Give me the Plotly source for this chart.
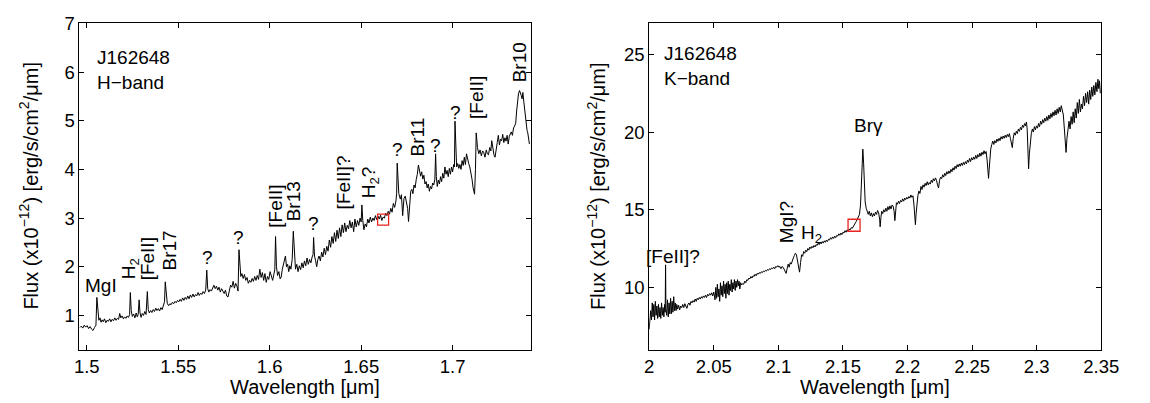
import plotly.graph_objects as go

W, H = 1150, 403
FONT = "Liberation Sans, Arial, Helvetica, sans-serif"

# ---------------- H-band spectrum (wavelength in micron, flux in 1e-12 erg/s/cm2/um)
h_wavelength = [
    1.4962, 1.4970, 1.4978, 1.4986, 1.4994, 1.5002, 1.5010, 1.5018, 1.5026, 1.5034,
    1.5042, 1.5050, 1.5055, 1.5060, 1.5066, 1.5072, 1.5078, 1.5084, 1.5090, 1.5097,
    1.5104, 1.5111, 1.5118, 1.5125, 1.5132, 1.5139, 1.5146, 1.5153, 1.5160, 1.5167,
    1.5174, 1.5180, 1.5186, 1.5193, 1.5200, 1.5207, 1.5214, 1.5221, 1.5228, 1.5234,
    1.5238, 1.5243, 1.5249, 1.5256, 1.5263, 1.5270, 1.5276, 1.5281, 1.5286, 1.5291,
    1.5297, 1.5303, 1.5310, 1.5317, 1.5324, 1.5331, 1.5336, 1.5342, 1.5349, 1.5356,
    1.5363, 1.5370, 1.5377, 1.5384, 1.5391, 1.5398, 1.5405, 1.5412, 1.5419, 1.5425,
    1.5429, 1.5434, 1.5440, 1.5447, 1.5454, 1.5461, 1.5468, 1.5475, 1.5482, 1.5489,
    1.5496, 1.5503, 1.5510, 1.5517, 1.5524, 1.5531, 1.5538, 1.5545, 1.5552, 1.5559,
    1.5566, 1.5573, 1.5580, 1.5587, 1.5594, 1.5601, 1.5608, 1.5615, 1.5622, 1.5629,
    1.5636, 1.5643, 1.5650, 1.5656, 1.5661, 1.5667, 1.5674, 1.5681, 1.5688, 1.5695,
    1.5702, 1.5709, 1.5716, 1.5723, 1.5730, 1.5737, 1.5744, 1.5751, 1.5758, 1.5765,
    1.5772, 1.5779, 1.5786, 1.5793, 1.5800, 1.5807, 1.5814, 1.5821, 1.5827, 1.5832,
    1.5837, 1.5842, 1.5848, 1.5855, 1.5862, 1.5869, 1.5876, 1.5883, 1.5890, 1.5897,
    1.5904, 1.5911, 1.5918, 1.5925, 1.5932, 1.5939, 1.5946, 1.5953, 1.5960, 1.5967,
    1.5974, 1.5981, 1.5988, 1.5995, 1.6002, 1.6009, 1.6016, 1.6023, 1.6028, 1.6032,
    1.6037, 1.6043, 1.6050, 1.6057, 1.6063, 1.6069, 1.6075, 1.6081, 1.6086, 1.6092,
    1.6098, 1.6104, 1.6110, 1.6116, 1.6123, 1.6129, 1.6135, 1.6141, 1.6148, 1.6155,
    1.6162, 1.6169, 1.6176, 1.6183, 1.6190, 1.6197, 1.6204, 1.6211, 1.6218, 1.6225,
    1.6232, 1.6237, 1.6240, 1.6245, 1.6251, 1.6257, 1.6263, 1.6270, 1.6277, 1.6284,
    1.6291, 1.6298, 1.6305, 1.6312, 1.6319, 1.6326, 1.6333, 1.6340, 1.6347, 1.6354,
    1.6361, 1.6368, 1.6375, 1.6382, 1.6389, 1.6396, 1.6403, 1.6410, 1.6417, 1.6424,
    1.6431, 1.6438, 1.6445, 1.6452, 1.6459, 1.6466, 1.6473, 1.6480, 1.6487, 1.6494,
    1.6500, 1.6504, 1.6509, 1.6515, 1.6522, 1.6529, 1.6536, 1.6543, 1.6550, 1.6557,
    1.6564, 1.6571, 1.6578, 1.6585, 1.6592, 1.6599, 1.6606, 1.6613, 1.6620, 1.6627,
    1.6634, 1.6641, 1.6648, 1.6655, 1.6662, 1.6669, 1.6676, 1.6683, 1.6690, 1.6694,
    1.6697, 1.6701, 1.6706, 1.6714, 1.6720, 1.6727, 1.6734, 1.6741, 1.6748, 1.6754,
    1.6759, 1.6765, 1.6771, 1.6777, 1.6783, 1.6789, 1.6795, 1.6801, 1.6807, 1.6813,
    1.6819, 1.6825, 1.6831, 1.6837, 1.6843, 1.6849, 1.6855, 1.6861, 1.6867, 1.6873,
    1.6879, 1.6885, 1.6891, 1.6897, 1.6903, 1.6907, 1.6911, 1.6916, 1.6922, 1.6928,
    1.6934, 1.6940, 1.6946, 1.6952, 1.6958, 1.6964, 1.6970, 1.6976, 1.6982, 1.6988,
    1.6994, 1.7000, 1.7006, 1.7010, 1.7013, 1.7017, 1.7022, 1.7028, 1.7034, 1.7040,
    1.7046, 1.7052, 1.7058, 1.7064, 1.7070, 1.7076, 1.7082, 1.7088, 1.7094, 1.7100,
    1.7106, 1.7112, 1.7120, 1.7125, 1.7129, 1.7136, 1.7143, 1.7150, 1.7157, 1.7164,
    1.7170, 1.7177, 1.7184, 1.7190, 1.7196, 1.7203, 1.7209, 1.7214, 1.7220, 1.7226,
    1.7232, 1.7238, 1.7244, 1.7250, 1.7256, 1.7262, 1.7268, 1.7274, 1.7280, 1.7286,
    1.7292, 1.7298, 1.7304, 1.7310, 1.7316, 1.7321, 1.7327, 1.7333, 1.7339, 1.7345,
    1.7350, 1.7355, 1.7360, 1.7366, 1.7371, 1.7375, 1.7380, 1.7384, 1.7389, 1.7393,
    1.7398, 1.7402, 1.7407, 1.7411, 1.7416, 1.7420,
]
h_flux = [
    0.75, 0.78, 0.74, 0.80, 0.76, 0.79, 0.73, 0.77, 0.72, 0.69,
    0.75, 0.80, 1.37, 1.05, 0.90, 0.95, 0.86, 0.91, 0.87, 0.93,
    0.85, 0.90, 0.88, 0.93, 0.87, 0.92, 0.89, 0.95, 0.90, 0.94,
    0.92, 1.04, 0.95, 0.99, 0.93, 0.97, 0.94, 0.99, 0.96, 1.02,
    1.47, 1.10, 0.98, 1.03, 0.95, 1.05, 0.97, 1.02, 1.32, 1.05,
    0.96, 1.04, 1.00, 1.08, 1.02, 1.49, 1.12, 1.05, 1.10, 1.06,
    1.12, 1.08, 1.15, 1.10, 1.14, 1.09, 1.16, 1.12, 1.20, 1.28,
    1.69, 1.38, 1.25, 1.20, 1.24, 1.22, 1.27, 1.24, 1.29, 1.26,
    1.31, 1.28, 1.33, 1.29, 1.36, 1.31, 1.37, 1.33, 1.40, 1.34,
    1.42, 1.37, 1.44, 1.38, 1.43, 1.40, 1.47, 1.41, 1.46, 1.43,
    1.49, 1.45, 1.52, 1.93, 1.55, 1.48, 1.53, 1.50, 1.57, 1.62,
    1.55, 1.60, 1.52, 1.58, 1.48, 1.55, 1.50, 1.45, 1.52, 1.40,
    1.38, 1.50, 1.62, 1.58, 1.70, 1.56, 1.66, 1.60, 1.50, 2.35,
    1.95, 1.80, 1.86, 1.76, 1.84, 1.72, 1.78, 1.66, 1.72, 1.68,
    1.76, 1.70, 1.80, 1.72, 1.82, 1.74, 1.95, 1.78, 1.88, 1.72,
    1.86, 1.68, 1.80, 1.74, 1.90, 1.80, 1.72, 1.85, 1.95, 2.62,
    2.00, 1.82, 1.90, 1.75, 1.79, 1.95, 2.05, 2.10, 2.22, 2.00,
    2.05, 1.90, 2.02, 1.95, 2.15, 2.73, 2.25, 1.95, 2.05, 1.90,
    2.02, 1.94, 2.08, 1.98, 2.12, 2.02, 2.18, 2.05, 2.15, 2.08,
    2.20, 2.25, 2.60, 2.22, 2.12, 2.00, 2.15, 2.22, 2.12, 2.30,
    2.20, 2.38, 2.25, 2.42, 2.32, 2.55, 2.40, 2.62, 2.48, 2.70,
    2.52, 2.75, 2.58, 2.80, 2.62, 2.86, 2.70, 2.90, 2.72, 2.85,
    2.78, 2.95, 2.80, 2.92, 2.72, 2.98, 2.82, 2.95, 2.85, 3.00,
    2.92, 3.27, 2.95, 2.76, 2.88, 2.82, 2.98, 2.90, 3.02, 2.92,
    3.00, 2.95, 3.05, 2.97, 3.04, 2.98, 3.06, 2.95, 3.02, 3.00,
    3.10, 3.05, 3.14, 3.08, 3.20, 3.12, 3.30, 3.22, 3.35, 3.50,
    4.13, 3.70, 3.50, 3.39, 3.48, 3.05, 3.40, 3.45, 3.30, 3.20,
    2.93, 3.40, 3.55, 3.59, 3.50, 3.68, 3.62, 3.79, 3.90, 4.09,
    3.95, 3.86, 3.95, 3.80, 3.88, 3.70, 3.75, 3.62, 3.70, 3.55,
    3.65, 3.60, 3.72, 3.68, 3.80, 4.32, 3.85, 3.65, 3.78, 3.70,
    3.85, 3.75, 3.92, 3.82, 4.05, 3.90, 3.98, 3.85, 4.02, 3.90,
    4.05, 3.95, 4.10, 4.05, 4.99, 4.25, 4.05, 4.12, 4.02, 4.10,
    4.00, 4.18, 4.08, 4.25, 4.10, 4.32, 4.20, 4.12, 4.05, 3.95,
    3.80, 3.62, 3.49, 4.00, 4.75, 4.45, 4.32, 4.40, 4.28, 4.38,
    4.35, 4.25, 4.40, 4.32, 4.30, 4.45, 4.38, 4.59, 4.42, 4.30,
    4.25, 4.45, 4.55, 4.70, 4.50, 4.62, 4.59, 4.72, 4.55, 4.65,
    4.58, 4.70, 4.52, 4.68, 4.72, 4.77, 4.70, 4.85, 4.89, 4.95,
    5.20, 5.40, 5.55, 5.62, 5.58, 5.52, 5.45, 5.58, 5.40, 5.25,
    5.05, 4.85, 4.80, 4.75, 4.62, 4.52,
]

# ---------------- K-band spectrum
k_wavelength = [
    2.0000, 2.0006, 2.0012, 2.0018, 2.0024, 2.0030, 2.0036, 2.0042, 2.0048, 2.0054,
    2.0060, 2.0066, 2.0072, 2.0078, 2.0084, 2.0090, 2.0096, 2.0102, 2.0108, 2.0114,
    2.0120, 2.0124, 2.0127, 2.0130, 2.0136, 2.0142, 2.0148, 2.0154, 2.0160, 2.0166,
    2.0172, 2.0178, 2.0184, 2.0190, 2.0196, 2.0202, 2.0208, 2.0214, 2.0220, 2.0228,
    2.0236, 2.0244, 2.0252, 2.0260, 2.0268, 2.0276, 2.0284, 2.0292, 2.0300, 2.0308,
    2.0316, 2.0324, 2.0332, 2.0340, 2.0348, 2.0356, 2.0364, 2.0372, 2.0380, 2.0388,
    2.0396, 2.0404, 2.0412, 2.0420, 2.0428, 2.0436, 2.0444, 2.0452, 2.0460, 2.0468,
    2.0476, 2.0484, 2.0492, 2.0500, 2.0510, 2.0516, 2.0522, 2.0528, 2.0534, 2.0540,
    2.0546, 2.0552, 2.0558, 2.0564, 2.0570, 2.0576, 2.0582, 2.0588, 2.0594, 2.0600,
    2.0606, 2.0612, 2.0618, 2.0624, 2.0630, 2.0636, 2.0642, 2.0648, 2.0654, 2.0660,
    2.0666, 2.0672, 2.0678, 2.0684, 2.0690, 2.0696, 2.0702, 2.0708, 2.0716, 2.0724,
    2.0732, 2.0740, 2.0748, 2.0756, 2.0764, 2.0772, 2.0780, 2.0788, 2.0796, 2.0804,
    2.0812, 2.0820, 2.0828, 2.0836, 2.0844, 2.0852, 2.0860, 2.0868, 2.0876, 2.0884,
    2.0892, 2.0900, 2.0908, 2.0916, 2.0924, 2.0932, 2.0940, 2.0948, 2.0956, 2.0964,
    2.0972, 2.0980, 2.0988, 2.0996, 2.1004, 2.1012, 2.1020, 2.1030, 2.1040, 2.1050,
    2.1060, 2.1068, 2.1076, 2.1084, 2.1092, 2.1100, 2.1108, 2.1116, 2.1124, 2.1132,
    2.1140, 2.1148, 2.1156, 2.1164, 2.1172, 2.1180, 2.1188, 2.1196, 2.1204, 2.1212,
    2.1220, 2.1228, 2.1236, 2.1244, 2.1252, 2.1260, 2.1268, 2.1276, 2.1284, 2.1292,
    2.1300, 2.1308, 2.1316, 2.1324, 2.1332, 2.1340, 2.1348, 2.1356, 2.1364, 2.1372,
    2.1380, 2.1388, 2.1396, 2.1404, 2.1412, 2.1420, 2.1428, 2.1436, 2.1444, 2.1452,
    2.1460, 2.1468, 2.1476, 2.1484, 2.1492, 2.1500, 2.1508, 2.1516, 2.1524, 2.1532,
    2.1540, 2.1548, 2.1556, 2.1564, 2.1572, 2.1580, 2.1588, 2.1596, 2.1604, 2.1612,
    2.1620, 2.1628, 2.1636, 2.1642, 2.1648, 2.1654, 2.1660, 2.1666, 2.1672, 2.1680,
    2.1688, 2.1696, 2.1704, 2.1712, 2.1720, 2.1728, 2.1736, 2.1744, 2.1752, 2.1760,
    2.1768, 2.1776, 2.1784, 2.1788, 2.1794, 2.1800, 2.1808, 2.1816, 2.1824, 2.1832,
    2.1840, 2.1848, 2.1856, 2.1864, 2.1872, 2.1880, 2.1888, 2.1896, 2.1902, 2.1908,
    2.1914, 2.1922, 2.1930, 2.1938, 2.1946, 2.1954, 2.1962, 2.1970, 2.1978, 2.1986,
    2.1994, 2.2002, 2.2010, 2.2018, 2.2026, 2.2034, 2.2042, 2.2050, 2.2056, 2.2061,
    2.2066, 2.2072, 2.2080, 2.2088, 2.2096, 2.2104, 2.2112, 2.2120, 2.2128, 2.2136,
    2.2144, 2.2152, 2.2160, 2.2168, 2.2176, 2.2184, 2.2192, 2.2200, 2.2208, 2.2216,
    2.2224, 2.2232, 2.2240, 2.2248, 2.2256, 2.2264, 2.2272, 2.2280, 2.2288, 2.2296,
    2.2304, 2.2312, 2.2320, 2.2328, 2.2336, 2.2344, 2.2352, 2.2360, 2.2368, 2.2376,
    2.2384, 2.2392, 2.2400, 2.2408, 2.2416, 2.2424, 2.2432, 2.2440, 2.2448, 2.2456,
    2.2464, 2.2472, 2.2480, 2.2488, 2.2496, 2.2504, 2.2512, 2.2520, 2.2528, 2.2536,
    2.2544, 2.2552, 2.2560, 2.2568, 2.2576, 2.2584, 2.2592, 2.2600, 2.2608, 2.2616,
    2.2622, 2.2627, 2.2632, 2.2638, 2.2644, 2.2652, 2.2660, 2.2668, 2.2676, 2.2684,
    2.2692, 2.2700, 2.2708, 2.2716, 2.2724, 2.2732, 2.2740, 2.2748, 2.2756, 2.2764,
    2.2772, 2.2780, 2.2788, 2.2796, 2.2804, 2.2811, 2.2818, 2.2826, 2.2834, 2.2842,
    2.2850, 2.2858, 2.2866, 2.2874, 2.2882, 2.2890, 2.2898, 2.2906, 2.2914, 2.2920,
    2.2926, 2.2931, 2.2937, 2.2943, 2.2950, 2.2958, 2.2966, 2.2974, 2.2982, 2.2990,
    2.2998, 2.3006, 2.3014, 2.3022, 2.3030, 2.3038, 2.3046, 2.3054, 2.3062, 2.3070,
    2.3078, 2.3086, 2.3094, 2.3102, 2.3110, 2.3118, 2.3126, 2.3134, 2.3142, 2.3150,
    2.3158, 2.3166, 2.3174, 2.3182, 2.3190, 2.3198, 2.3206, 2.3214, 2.3220, 2.3227,
    2.3234, 2.3242, 2.3250, 2.3258, 2.3266, 2.3274, 2.3282, 2.3290, 2.3298, 2.3306,
    2.3314, 2.3322, 2.3330, 2.3338, 2.3346, 2.3354, 2.3362, 2.3370, 2.3378, 2.3386,
    2.3394, 2.3402, 2.3410, 2.3418, 2.3426, 2.3434, 2.3442, 2.3450, 2.3458, 2.3466,
    2.3474, 2.3480, 2.3486, 2.3492,
]
k_flux = [
    7.3, 8.2, 8.5, 7.9, 9.0, 8.1, 8.9, 7.9, 9.1, 8.2,
    8.8, 8.0, 8.9, 8.1, 8.7, 8.0, 9.0, 8.2, 8.7, 8.1,
    8.9, 8.4, 11.45, 8.6, 8.2, 9.2, 8.1, 9.0, 8.3, 9.3,
    8.3, 9.1, 8.4, 9.4, 8.5, 9.0, 8.5, 8.9, 8.6, 8.85,
    8.55, 8.8, 8.7, 8.9, 8.7, 8.95, 8.8, 8.65, 8.9, 9.0,
    8.85, 9.1, 9.0, 9.15, 9.05, 9.25, 9.1, 9.3, 9.2, 9.35,
    9.25, 9.4, 9.3, 9.45, 9.35, 9.5, 9.35, 9.55, 9.45, 9.6,
    9.5, 9.65, 9.45, 9.7, 9.2, 10.0, 9.3, 10.2, 9.4, 9.9,
    9.1, 10.3, 9.5, 10.1, 9.4, 10.4, 9.6, 10.2, 9.3, 10.3,
    9.6, 10.4, 9.5, 10.2, 9.8, 10.5, 9.7, 10.3, 9.9, 10.5,
    9.8, 10.4, 10.0, 10.5, 10.1, 10.4, 9.9, 10.3, 10.15, 10.25,
    10.2, 10.4, 10.3, 10.5, 10.45, 10.6, 10.55, 10.7, 10.6, 10.75,
    10.7, 10.85, 10.75, 10.9, 10.85, 10.95, 10.9, 11.0, 10.95, 11.05,
    11.0, 11.1, 11.05, 11.15, 11.1, 11.2, 11.15, 11.25, 11.2, 11.3,
    11.2, 11.35, 11.3, 11.4, 11.3, 11.35, 11.2, 11.35, 11.25, 11.1,
    10.9, 11.2, 11.5, 11.3, 11.6, 11.5, 11.75, 11.9, 12.05, 12.2,
    12.1, 11.8, 11.3, 10.98, 11.6, 12.1, 12.0, 12.3, 12.2, 12.4,
    12.3, 12.5, 12.4, 12.6, 12.5, 12.65, 12.55, 12.7, 12.6, 12.75,
    12.7, 12.85, 12.75, 12.9, 12.8, 12.95, 12.85, 13.0, 12.9, 13.05,
    12.95, 13.1, 13.05, 13.2, 13.1, 13.25, 13.15, 13.3, 13.2, 13.35,
    13.3, 13.45, 13.35, 13.5, 13.4, 13.55, 13.5, 13.65, 13.55, 13.7,
    13.6, 13.75, 13.7, 13.85, 13.8, 13.95, 14.05, 14.15, 14.25, 14.4,
    14.5, 14.7, 15.3, 16.5, 18.2, 18.9, 18.0, 16.3, 15.5, 15.1,
    14.8, 14.7, 14.9, 14.6, 14.8, 14.55, 14.75, 14.6, 14.85, 14.7,
    14.95, 14.8, 14.4, 13.9, 14.5, 14.9, 14.75, 15.0, 14.85, 15.1,
    14.9, 15.2, 15.0, 15.25, 15.05, 15.3, 15.25, 14.9, 14.3, 15.0,
    15.45, 15.35, 15.55, 15.4, 15.6, 15.5, 15.7, 15.55, 15.75, 15.65,
    15.8, 15.7, 15.85, 15.75, 15.95, 15.8, 15.9, 15.3, 14.6, 14.04,
    14.7, 15.5, 15.9, 16.2, 16.05, 16.5, 16.3, 16.6, 16.45, 16.7,
    16.55, 16.8, 16.6, 16.75, 16.65, 16.9, 16.75, 17.0, 16.85, 17.05,
    16.9, 16.6, 16.4, 16.9, 17.1, 17.0, 17.25, 17.1, 17.35, 17.2,
    17.45, 17.3, 17.5, 17.35, 17.6, 17.45, 17.7, 17.55, 17.8, 17.65,
    17.9, 17.75, 17.95, 17.8, 18.0, 17.85, 18.05, 17.9, 18.1, 17.95,
    18.2, 18.05, 18.3, 18.1, 18.35, 18.2, 18.4, 18.25, 18.5, 18.3,
    18.55, 18.4, 18.65, 18.45, 18.7, 18.55, 18.8, 18.6, 18.75, 18.2,
    17.5, 17.02, 17.6, 18.5, 18.9, 19.2, 19.42, 19.2, 19.45, 19.3,
    19.55, 19.4, 19.6, 19.45, 19.7, 19.55, 19.75, 19.6, 19.8, 19.65,
    19.85, 19.7, 19.9, 19.6, 19.3, 19.0, 19.6, 19.95, 19.8, 20.05,
    19.9, 20.2, 20.05, 20.3, 20.15, 20.45, 20.3, 20.55, 20.4, 20.65,
    20.2, 19.0, 17.64, 18.6, 19.5, 19.9, 20.2, 20.0, 20.35, 20.15,
    20.4, 20.25, 20.55, 20.35, 20.7, 20.5, 20.8, 20.6, 20.9, 20.7,
    21.0, 20.75, 21.1, 20.85, 21.2, 20.95, 21.3, 21.05, 21.4, 21.1,
    21.5, 21.2, 21.6, 21.3, 21.7, 21.4, 21.1, 20.2, 19.3, 18.69,
    19.6, 20.4, 20.7, 20.2, 21.0, 20.5, 21.3, 20.6, 21.5, 20.9,
    21.9, 21.2, 22.1, 21.3, 21.8, 21.5, 22.3, 21.7, 22.5, 21.9,
    22.6, 21.8, 22.7, 22.1, 22.9, 22.3, 23.0, 22.4, 23.2, 22.6,
    23.4, 22.8, 23.3, 22.5,
]

# reference-wavelength markers (red open squares)
h_ref_wl, h_ref_flux = [1.662], [2.97]
k_ref_wl, k_ref_flux = [2.1586], [14.0]

# axis ticks
h_xticks = [1.5, 1.55, 1.6, 1.65, 1.7]
h_xticklabels = ["1.5", "1.55", "1.6", "1.65", "1.7"]
h_yticks = [1, 2, 3, 4, 5, 6, 7]
k_xticks = [2.0, 2.05, 2.1, 2.15, 2.2, 2.25, 2.3, 2.35]
k_xticklabels = ["2", "2.05", "2.1", "2.15", "2.2", "2.25", "2.3", "2.35"]
k_yticks = [10, 15, 20, 25]

# line identifications: (text, wavelength, flux, rotated)
h_line_labels = [
    ("MgI", 1.5080, 1.62, False),
    ("H<sub>2</sub>", 1.5237, 1.95, True),
    ("[FeII]", 1.5334, 2.17, True),
    ("Br17", 1.5451, 2.34, True),
    ("?", 1.5661, 2.20, False),
    ("?", 1.5830, 2.60, False),
    ("[FeII]", 1.6031, 3.24, True),
    ("Br13", 1.6129, 3.35, True),
    ("?", 1.6241, 2.89, False),
    ("[FeII]?<br>H<sub>2</sub>?", 1.6482, 3.73, True),
    ("?", 1.6697, 4.40, False),
    ("Br11", 1.6809, 4.67, True),
    ("?", 1.6907, 4.50, False),
    ("?", 1.7015, 5.17, False),
    ("[FeII]", 1.7134, 5.47, True),
    ("Br10", 1.7363, 6.20, True),
]
k_line_labels = [
    ("[FeII]?", 2.0187, 11.98, False),
    ("MgI?", 2.1068, 14.21, True),
    ("H<sub>2</sub>", 2.1255, 13.45, False),
    ("Brγ", 2.1700, 20.42, False),
]

# ---------------- layout geometry (pixels)
L1, R1 = 76, 537
L2, R2 = 657.3, 1118.7
TOP, BOT = 12.7, 348

fs_tick = 18.5
fs_lab = 19
fs_title = 20

fig = go.Figure()
fig.add_trace(go.Scatter(x=h_wavelength, y=h_flux, mode="lines",
                         line=dict(color="black", width=1), xaxis="x", yaxis="y",
                         showlegend=False, hoverinfo="skip"))
fig.add_trace(go.Scatter(x=k_wavelength, y=k_flux, mode="lines",
                         line=dict(color="black", width=1), xaxis="x2", yaxis="y2",
                         showlegend=False, hoverinfo="skip"))
fig.add_trace(go.Scatter(x=h_ref_wl, y=h_ref_flux, mode="markers",
                         marker=dict(symbol="square-open", size=11, color="#e8221c",
                                     line=dict(width=1.3)),
                         xaxis="x", yaxis="y", showlegend=False))
fig.add_trace(go.Scatter(x=k_ref_wl, y=k_ref_flux, mode="markers",
                         marker=dict(symbol="square-open", size=12, color="#e8221c",
                                     line=dict(width=1.3)),
                         xaxis="x2", yaxis="y2", showlegend=False))

axis_common = dict(showline=True, mirror="ticks", linecolor="black", linewidth=1,
                   ticks="inside", ticklen=5, tickwidth=1, tickcolor="black",
                   showgrid=False, zeroline=False,
                   tickfont=dict(family=FONT, size=fs_tick, color="black"))

ydom = [(H - BOT) / H, (H - TOP) / H]
fig.update_layout(
    width=W, height=H, autosize=False,
    margin=dict(l=0, r=0, t=0, b=0),
    paper_bgcolor="white", plot_bgcolor="white",
    font=dict(family=FONT, size=fs_lab, color="black"),
    xaxis=dict(domain=[L1 / W, R1 / W], range=[1.496, 1.743], anchor="y",
               tickvals=h_xticks, ticktext=h_xticklabels, **axis_common),
    yaxis=dict(domain=ydom, range=[0.3, 7], anchor="x",
               tickvals=h_yticks, **axis_common),
    xaxis2=dict(domain=[L2 / W, R2 / W], range=[2.0, 2.35], anchor="y2",
                tickvals=k_xticks, ticktext=k_xticklabels, **axis_common),
    yaxis2=dict(domain=ydom, range=[6, 27], anchor="x2",
                tickvals=k_yticks, **axis_common),
)

ann = []
for (txt, wl, fl, rot) in h_line_labels:
    ann.append(dict(x=wl, y=fl, xref="x", yref="y", text=txt, showarrow=False,
                    textangle=-90 if rot else 0, font=dict(size=fs_lab, family=FONT)))
for (txt, wl, fl, rot) in k_line_labels:
    ann.append(dict(x=wl, y=fl, xref="x2", yref="y2", text=txt, showarrow=False,
                    textangle=-90 if rot else 0, font=dict(size=fs_lab, family=FONT)))

# object / band labels
ann.append(dict(x=(91.7) / W, y=(H - 60.7) / H, xref="paper", yref="paper",
                text="J162648<br>H−band", showarrow=False, xanchor="left",
                yanchor="middle", align="left", font=dict(size=fs_lab, family=FONT)))
ann.append(dict(x=(670) / W, y=(H - 57) / H, xref="paper", yref="paper",
                text="J162648<br>K−band", showarrow=False, xanchor="left",
                yanchor="middle", align="left", font=dict(size=fs_lab, family=FONT)))

# axis titles
ytitle = "Flux (x10<sup>−12</sup>) [erg/s/cm<sup>2</sup>/μm]"
for xc in (24, 603):
    ann.append(dict(x=xc / W, y=(H - 180) / H, xref="paper", yref="paper",
                    text=ytitle, showarrow=False, textangle=-90,
                    xanchor="center", yanchor="middle",
                    font=dict(size=fs_title, family=FONT)))
for xc in ((L1 + R1) / 2, (L2 + R2) / 2):
    ann.append(dict(x=xc / W, y=(H - 387) / H, xref="paper", yref="paper",
                    text="Wavelength [μm]", showarrow=False,
                    xanchor="center", yanchor="middle",
                    font=dict(size=fs_title, family=FONT)))

fig.update_layout(annotations=ann)
fig.write_html("out.html")
